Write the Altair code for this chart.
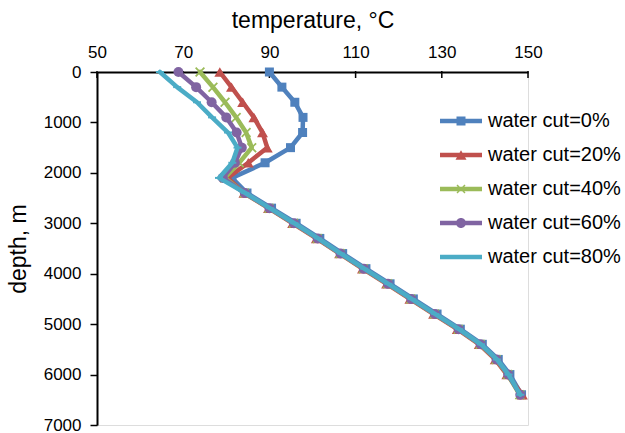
import altair as alt
import pandas as pd

# ---------------- data ----------------
depth = [0, 300, 600, 900, 1200, 1500, 1800, 2100, 2400, 2700, 3000, 3300,
         3600, 3900, 4200, 4500, 4800, 5100, 5400, 5700, 6000, 6400]

series_names = ["water cut=0%", "water cut=20%", "water cut=40%",
                "water cut=60%", "water cut=80%"]

temp_wc0 = [90.0, 92.9, 95.9, 97.8, 97.7, 94.9, 89.0, 81.3, 84.8, 90.5, 96.2,
            101.7, 107.0, 112.4, 118.0, 123.4, 128.9, 134.3, 139.4, 143.1, 145.8, 148.5]
temp_wc20 = [78.5, 81.2, 83.8, 86.4, 88.4, 89.5, 85.1, 80.3, 84.1, 89.8, 95.4,
             100.9, 106.3, 111.6, 117.2, 122.6, 128.1, 133.6, 138.7, 142.4, 145.1, 148.7]
temp_wc40 = [73.9, 76.9, 79.7, 82.3, 84.6, 85.9, 83.0, 79.6, 84.2, 89.9, 95.6,
             101.1, 106.4, 111.8, 117.4, 122.8, 128.3, 133.8, 138.9, 142.6, 145.3, 148.1]
temp_wc60 = [68.9, 73.0, 76.6, 80.0, 82.4, 83.6, 82.0, 79.2, 84.3, 90.0, 95.7,
             101.2, 106.5, 111.9, 117.5, 122.9, 128.4, 133.9, 139.0, 142.7, 145.4, 148.2]
temp_wc80 = [64.6, 68.6, 73.2, 76.7, 80.4, 82.6, 81.4, 78.3, 84.4, 90.1, 95.8,
             101.3, 106.6, 112.0, 117.6, 123.0, 128.5, 134.0, 139.1, 142.8, 145.5, 148.2]

x_ticks = [50, 70, 90, 110, 130, 150]
y_ticks = [0, 1000, 2000, 3000, 4000, 5000, 6000, 7000]

# ---------------- styles ----------------
colors = ["#4F81BD", "#C0504D", "#9BBB59", "#8064A2", "#4BACC6"]
marker_shapes = [
    "square",
    "triangle-up",
    "M-1,-0.75L-0.75,-1L1,0.75L0.75,1Z M0.75,-1L1,-0.75L-0.75,1L-1,0.75Z",
    "circle",
    "M-1,-0.25H1V0.25H-1Z",
]
marker_sizes = [81, 120, 100, 100, 64]
line_part = "M-2.1,-0.22H2.1V0.22H-2.1Z"
legend_shapes = [
    line_part + " M-0.45,-0.45H0.45V0.45H-0.45Z",
    line_part + " M0,-0.48L0.55,0.48L-0.55,0.48Z",
    line_part + " M-0.45,-0.35L-0.35,-0.45L0.45,0.35L0.35,0.45Z M0.35,-0.45L0.45,-0.35L-0.35,0.45L-0.45,0.35Z",
    line_part + " M0.5,0A0.5,0.5 0 1,1 -0.5,0A0.5,0.5 0 1,1 0.5,0Z",
    line_part,
]

FONT = "Liberation Sans"

rows = []
for name, temps in zip(series_names,
                       [temp_wc0, temp_wc20, temp_wc40, temp_wc60, temp_wc80]):
    for d, t in zip(depth, temps):
        rows.append({"series": name, "depth": d, "temp": t})
df = pd.DataFrame(rows)
tick_df = pd.DataFrame({"temp": x_ticks})

x_scale = alt.Scale(domain=[50, 150], nice=False, zero=False)
x_axis = alt.Axis(
    orient="top", values=x_ticks, title="temperature, °C", grid=False,
    labelFontSize=17, titleFontSize=23, titleFontWeight="normal",
    labelFont=FONT, titleFont=FONT, labelColor="black", titleColor="black",
    domainColor="black", domainWidth=2, ticks=False,
    labelPadding=11, titleY=-52, titleBaseline="middle",
    labelFlush=False,
)
x_enc = alt.X("temp:Q", scale=x_scale, axis=x_axis)
y_enc = alt.Y(
    "depth:Q",
    scale=alt.Scale(domain=[0, 7000], reverse=True, nice=False, zero=False),
    axis=alt.Axis(
        values=y_ticks, title="depth, m", format="d", grid=False,
        labelFontSize=17, titleFontSize=23, titleFontWeight="normal",
        labelFont=FONT, titleFont=FONT, labelColor="black", titleColor="black",
        domainColor="black", domainWidth=2, tickColor="black", tickWidth=1.5,
        tickSize=7, labelPadding=9, titleX=-79, titleY=176.5,
        titleBaseline="middle", titleAlign="center", labelFlush=False,
    ),
)


def color_scale():
    return alt.Scale(domain=series_names, range=colors)


base = alt.Chart(df)
layers = []

# inward tick marks of the top (temperature) axis
layers.append(
    alt.Chart(tick_df).mark_rule(color="black", strokeWidth=1.5).encode(
        x=x_enc,
        y=alt.value(-1), y2=alt.value(6),
    )
)

for i, name in enumerate(series_names):
    sub = base.transform_filter(alt.datum.series == name)
    layers.append(
        sub.mark_line(strokeWidth=4.5, strokeJoin="round", strokeCap="round").encode(
            x=x_enc, y=y_enc,
            color=alt.Color("series:N", scale=color_scale(), legend=None),
            order="depth:Q",
        )
    )
    layers.append(
        sub.mark_point(filled=True, opacity=1, shape=marker_shapes[i],
                       size=marker_sizes[i], strokeWidth=0).encode(
            x=x_enc, y=y_enc,
            color=alt.Color("series:N", scale=color_scale(), legend=None),
        )
    )

leg = alt.Legend(
    title=None, orient="none", legendX=354, legendY=39, padding=0,
    symbolSize=400, symbolStrokeWidth=0, symbolOpacity=1,
    labelFont=FONT, labelFontSize=20, labelColor="black", labelOffset=17,
    rowPadding=14, labelLimit=300,
)
legend_layer = base.transform_filter("datum.depth < 0").mark_point(
    filled=True, opacity=1, strokeWidth=0
).encode(
    color=alt.Color("series:N", scale=color_scale(), legend=leg),
    shape=alt.Shape("series:N",
                    scale=alt.Scale(domain=series_names, range=legend_shapes),
                    legend=leg),
)
layers.append(legend_layer)

chart = alt.layer(*layers).resolve_scale(
    color="independent", shape="independent"
).properties(
    width=431, height=353,
    padding={"left": 97, "top": 72, "right": 97, "bottom": 8},
    autosize=alt.AutoSizeParams(type="none"),
).configure_view(stroke=None).configure(background="white")

chart.save("out.html", embed_options={"renderer": "svg", "actions": False})
